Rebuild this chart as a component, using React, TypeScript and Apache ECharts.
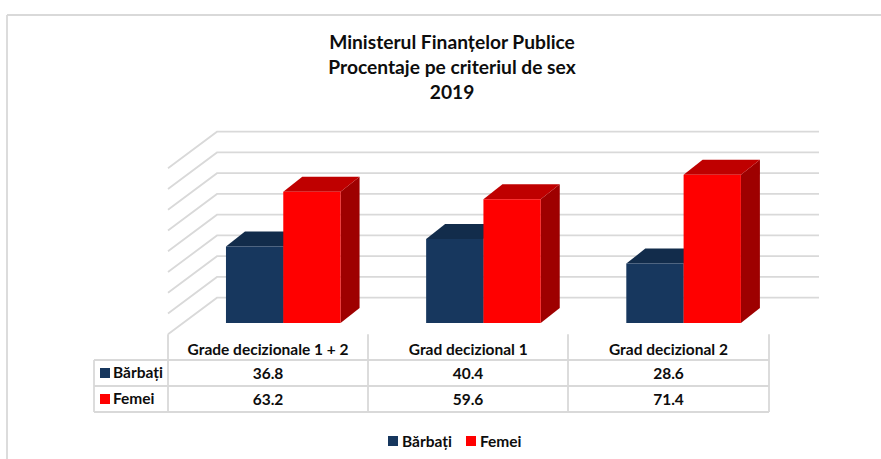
import React, { useEffect, useRef } from "react";
import * as echarts from "echarts";

const titleLines = ["Ministerul Finanțelor Publice", "Procentaje pe criteriul de sex", "2019"];
const categories = ["Grade decizionale 1 + 2", "Grad decizional 1", "Grad decizional 2"];
const barbati = [36.8, 40.4, 28.6];
const femei = [63.2, 59.6, 71.4];
const gridTicks = [0, 10, 20, 30, 40, 50, 60, 70, 80];

const FONT = "Lato";
const TEXT = "#0d0d0d";
const LINE = "#d9d9d9";
const BLUE = { front: "#17375e", top: "#122c4b", side: "#0f2540" };
const RED = { front: "#ff0000", top: "#bf0000", side: "#9e0000" };

const LEFT = 168;
const RIGHT = 768.5;
const FRONT_TOP = 168.3;
const FRONT_BOTTOM = 334.3;
const DEPTH_X = 49;
const DEPTH_Y = 36.6;
const WALL_RIGHT = 819;
const BAR_W = 57.3;
const BAR_FRONT = 0.31;
const BAR_DEPTH_X = 19;
const BAR_DEPTH_Y = 15;
const ROW_Y = [360, 386, 412];
const COL_X = [168, 368, 568, 769];
const LINE_W = 1.8;
const TEXT_SIZE = 15.5;

function barSeries(name: string, values: number[], colors: typeof BLUE, side: number) {
  return {
    name,
    type: "custom",
    coordinateSystem: "cartesian2d",
    clip: false,
    itemStyle: { color: colors.front },
    data: values.map((v, i) => [i, v]),
    z: side < 0 ? 3 : 4,
    renderItem: (_p: any, api: any) => {
      const base = api.coord([api.value(0), 0]);
      const top = api.coord([api.value(0), api.value(1)]);
      const cx = base[0] + DEPTH_X * BAR_FRONT;
      const x0 = side < 0 ? cx - BAR_W : cx;
      const x1 = x0 + BAR_W;
      const yB = base[1] - DEPTH_Y * BAR_FRONT;
      const yT = top[1] - DEPTH_Y * BAR_FRONT;
      const dx = BAR_DEPTH_X;
      const dy = BAR_DEPTH_Y;
      return {
        type: "group",
        children: [
          { type: "polygon", shape: { points: [[x1, yT], [x1 + dx, yT - dy], [x1 + dx, yB - dy], [x1, yB]] }, style: { fill: colors.side } },
          { type: "polygon", shape: { points: [[x0, yT], [x0 + dx, yT - dy], [x1 + dx, yT - dy], [x1, yT]] }, style: { fill: colors.top } },
          { type: "rect", shape: { x: x0, y: yT, width: BAR_W, height: yB - yT }, style: { fill: colors.front } },
        ],
      };
    },
  };
}

function tableGraphics() {
  const lines: any[] = [];
  const line = (x1: number, y1: number, x2: number, y2: number) =>
    lines.push({ type: "line", shape: { x1, y1, x2, y2 }, style: { stroke: LINE, lineWidth: LINE_W } });
  ROW_Y.forEach((y) => line(94, y, COL_X[3], y));
  line(94, ROW_Y[0], 94, ROW_Y[2]);
  COL_X.forEach((x) => line(x, FRONT_BOTTOM, x, ROW_Y[2]));
  const text = (t: string, x: number, y: number, align: string) =>
    lines.push({
      type: "text",
      x,
      y,
      style: { text: t, fill: TEXT, font: `bold ${TEXT_SIZE}px ${FONT}`, textAlign: align, textVerticalAlign: "middle" },
    });
  [["Bărbați", barbati, BLUE.front], ["Femei", femei, RED.front]].forEach((row: any, r) => {
    const cy = (ROW_Y[r] + ROW_Y[r + 1]) / 2;
    lines.push({ type: "rect", shape: { x: 100, y: cy - 5, width: 10, height: 10 }, style: { fill: row[2] } });
    text(row[0], 113, cy - 1, "left");
    row[1].forEach((v: number, c: number) => text(v.toFixed(1), (COL_X[c] + COL_X[c + 1]) / 2, cy, "center"));
  });
  // chart-area frame
  lines.push({ type: "line", shape: { x1: 7, y1: 15, x2: 881, y2: 15 }, style: { stroke: LINE, lineWidth: LINE_W } });
  lines.push({ type: "line", shape: { x1: 7, y1: 15, x2: 7, y2: 459 }, style: { stroke: LINE, lineWidth: LINE_W } });
  return lines;
}

export default function App() {
  const ref = useRef<HTMLDivElement>(null);
  useEffect(() => {
    const chart = echarts.init(ref.current!, undefined, { renderer: "svg" });
    chart.setOption({
      animation: false,
      backgroundColor: "#ffffff",
      title: {
        text: titleLines.join("\n"),
        left: 447,
        top: 23.5,
        textAlign: "center",
        textStyle: { fontFamily: FONT, fontSize: 19.2, fontWeight: "bold", color: TEXT, lineHeight: 25.2 },
      },
      legend: {
        data: ["Bărbați", "Femei"],
        left: 388,
        top: 433,
        icon: "rect",
        itemWidth: 10,
        itemHeight: 10,
        itemGap: 14,
        selectedMode: false,
        textStyle: { fontFamily: FONT, fontSize: TEXT_SIZE, fontWeight: "bold", color: TEXT, padding: [0, 0, 0, -1] },
        padding: 0,
      },
      grid: { left: LEFT, top: FRONT_TOP, width: RIGHT - LEFT, height: FRONT_BOTTOM - FRONT_TOP },
      xAxis: {
        type: "category",
        data: categories,
        axisLine: { show: false },
        axisTick: { show: false },
        axisLabel: { fontFamily: FONT, fontSize: TEXT_SIZE, fontWeight: "bold", color: TEXT, margin: 7, interval: 0 },
      },
      yAxis: {
        type: "value",
        min: 0,
        max: 80,
        interval: 10,
        axisLine: { show: false },
        axisTick: { show: false },
        axisLabel: { show: false },
        splitLine: { show: false },
      },
      graphic: tableGraphics(),
      series: [
        {
          name: "walls",
          type: "custom",
          coordinateSystem: "cartesian2d",
          clip: false,
          silent: true,
          z: 1,
          data: gridTicks.map((t) => [0, t]),
          renderItem: (_p: any, api: any) => {
            const y = api.coord([0, api.value(1)])[1];
            return {
              type: "polyline",
              shape: { points: [[LEFT, y], [LEFT + DEPTH_X, y - DEPTH_Y], [WALL_RIGHT, y - DEPTH_Y]] },
              style: { stroke: LINE, lineWidth: LINE_W, fill: "none" },
            };
          },
        },
        barSeries("Bărbați", barbati, BLUE, -1),
        barSeries("Femei", femei, RED, 1),
      ],
    });
    return () => chart.dispose();
  }, []);
  return <div ref={ref} style={{ position: "absolute", left: 0, top: 0, width: 881, height: 459 }} />;
}
